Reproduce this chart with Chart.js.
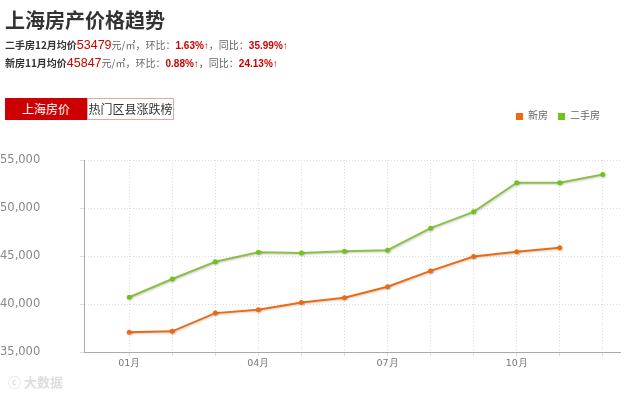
<!DOCTYPE html>
<html>
<head>
<meta charset="utf-8">
<script src="https://cdn.jsdelivr.net/npm/chart.js@4/dist/chart.umd.min.js"></script>
<style>
  html,body{margin:0;padding:0;background:#fff;width:640px;height:393px;overflow:hidden;}
  body{position:relative;font-family:"Liberation Sans","Noto Sans CJK SC",sans-serif;}
  #c{position:absolute;left:0;top:0;}
  .ov{position:absolute;white-space:nowrap;z-index:2;}
  #title{left:5px;top:8px;font-size:20px;font-weight:bold;color:#333;font-family:"Noto Sans CJK SC",sans-serif;line-height:24px;}
  .sub{left:5px;font-size:10px;color:#666;line-height:16px;font-family:"Noto Sans CJK SC",sans-serif;}
  .sub b.k{color:#333;}
  .sub .big{color:#cc0000;font-size:12.5px;font-family:"Liberation Sans",sans-serif;}
  .sub .r{color:#cc0000;font-weight:bold;font-family:"Liberation Sans",sans-serif;}
  #tab1{left:5px;top:98px;width:82px;height:22px;background:#cc0000;color:#fff;font-size:12px;line-height:22px;text-align:center;font-family:"Noto Sans CJK SC",sans-serif;}
  #tab2{left:87px;top:98px;width:85px;height:20px;border:1px solid #e3a6a6;color:#333;font-size:12px;line-height:20px;text-align:center;font-family:"Noto Sans CJK SC",sans-serif;}
  #legend{top:108px;left:516px;font-size:10px;color:#666;font-family:"Noto Sans CJK SC",sans-serif;line-height:14px;}
  #legend span.sw{display:inline-block;width:7px;height:7px;margin-right:5px;vertical-align:-0.5px;}
  #legend span.it{margin-right:10px;}
  #wm{left:8px;top:372px;font-size:13px;color:#dddddd;font-weight:bold;font-family:"Noto Sans CJK SC",sans-serif;}
</style>
</head>
<body>
<canvas id="c" width="640" height="393"></canvas>
<div class="ov" id="title">上海房产价格趋势</div>
<div class="ov sub" style="top:37px"><b class="k">二手房12月均价</b><span class="big">53479</span>元/㎡，环比：<span class="r">1.63%↑</span>，同比：<span class="r">35.99%↑</span></div>
<div class="ov sub" style="top:55px"><b class="k">新房11月均价</b><span class="big">45847</span>元/㎡，环比：<span class="r">0.88%↑</span>，同比：<span class="r">24.13%↑</span></div>
<div class="ov" id="tab1">上海房价</div>
<div class="ov" id="tab2">热门区县涨跌榜</div>
<div class="ov" id="legend"></div>
<div class="ov" id="wm">ⓒ 大数据</div>
<script>
const months = ['01月','02月','03月','04月','05月','06月','07月','08月','09月','10月','11月','12月'];
const seriesNames = ['新房','二手房'];
const newHouse = [37050, 37150, 39050, 39400, 40150, 40650, 41800, 43450, 44950, 45450, 45847];
const secondHand = [40700, 42600, 44400, 45400, 45300, 45500, 45600, 47900, 49600, 52630, 52620, 53479];
const yTicks = [35000, 40000, 45000, 50000, 55000];
const colors = ['#ee6a12', '#72c21b'];

const toPts = arr => arr.map((v, i) => ({x: i + 1, y: v}));

document.getElementById('legend').innerHTML = seriesNames.map((n, i) =>
  '<span class="it"><span class="sw" style="background:' + colors[i] + '"></span>' + n + '</span>').join('');

const shadowPlugin = {
  id: 'shadow',
  beforeDatasetDraw(chart) {
    const ctx = chart.ctx;
    ctx.save();
    ctx.shadowColor = 'rgba(0,0,0,0.18)';
    ctx.shadowBlur = 2;
    ctx.shadowOffsetX = 1;
    ctx.shadowOffsetY = 1;
  },
  afterDatasetDraw(chart) { chart.ctx.restore(); }
};

new Chart(document.getElementById('c'), {
  type: 'line',
  data: {
    datasets: [
      {label: seriesNames[0], data: toPts(newHouse), borderColor: colors[0], backgroundColor: colors[0],
       borderWidth: 2, pointRadius: 2.5, pointBorderWidth: 0, tension: 0},
      {label: seriesNames[1], data: toPts(secondHand), borderColor: '#8cbf4a', backgroundColor: colors[1],
       borderWidth: 2, pointRadius: 2.5, pointBorderWidth: 0, tension: 0}
    ]
  },
  options: {
    responsive: false,
    animation: false,
    layout: {padding: {left: 0, right: 20, top: 160, bottom: 0}},
    plugins: {legend: {display: false}, tooltip: {enabled: false}},
    scales: {
      x: {
        type: 'linear', min: -0.05, max: 12.4,
        afterBuildTicks: s => { s.ticks = months.map((m, i) => ({value: i + 1})); },
        afterFit: s => { s.height = 41; },
        ticks: {autoSkip: false, maxRotation: 0, padding: 2, color: '#777',
          font: {family: 'DejaVu Sans', size: 9.5},
          callback: v => ((v - 1) % 3 === 0 ? months[v - 1] : '')},
        grid: {color: '#dddddd', tickLength: 4, drawTicks: true, lineWidth: 1, tickColor: '#dddddd'},
        border: {color: '#aaa', width: 1, dash: [1, 2]}
      },
      y: {
        min: 35000, max: 55000,
        afterBuildTicks: s => { s.ticks = yTicks.map(v => ({value: v})); },
        afterFit: s => { s.width = 84; },
        ticks: {crossAlign: 'far', padding: 4, color: '#888',
          font: {family: 'DejaVu Sans', size: 11.5},
          callback: v => v.toLocaleString('en-US')},
        grid: {color: '#dcdcdc', tickLength: 4, lineWidth: 1},
        border: {color: '#aaa', width: 1, dash: [1, 2]}
      }
    }
  },
  plugins: [shadowPlugin]
});
</script>
</body>
</html>
